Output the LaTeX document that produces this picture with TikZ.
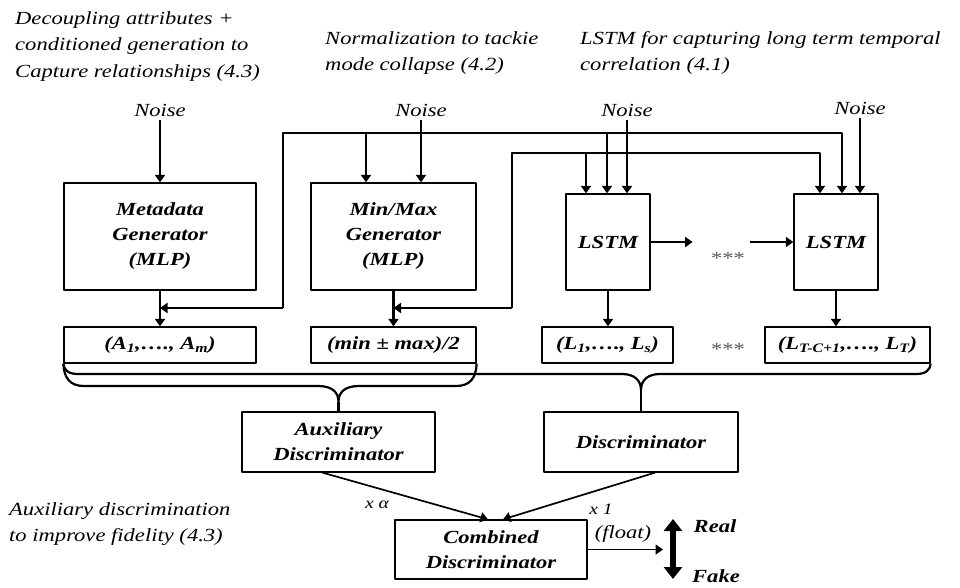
\documentclass[tikz,border=0pt]{standalone}
\usepackage{fontspec}
\setmainfont{Liberation Serif}[FakeStretch=1.22]
\usetikzlibrary{arrows.meta,calc}
\usetikzlibrary{positioning}

\begin{document}
\begin{tikzpicture}[x=1pt,y=-1pt,>={Triangle[width=10pt,length=7.5pt]},line join=round,
  box/.style={draw,line width=1.3pt,inner sep=0pt,align=center,font=\fontsize{18.5}{25}\selectfont\bfseries\itshape},
  wire/.style={line width=2.2pt},
  thin wire/.style={line width=1.7pt},
  note/.style={anchor=north west,inner sep=0pt,align=left,font=\fontsize{18.5}{26.5}\selectfont\itshape},
  noise/.style={inner sep=4pt,font=\fontsize{18.5}{22}\selectfont\itshape},
  small/.style={inner sep=0pt,font=\fontsize{16}{18}\selectfont\itshape},
  stars/.style={anchor=base,inner sep=0pt,text=black!65,font=\fontsize{18.5}{22}\selectfont}]
\useasboundingbox (0,0) rectangle (960,587);
% design notes
\node[note] (nA) at (15,11) {Decoupling attributes +\\conditioned generation to\\Capture relationships (4.3)};
\node[note] (nB) at (325,31) {Normalization to tackie\\mode collapse (4.2)};
\node[note] (nC) at (580,31) {LSTM for capturing long term temporal\\correlation (4.1)};
\node[note] (nD) at (9,502) {Auxiliary discrimination\\to improve fidelity (4.3)};
% generators
\node[box,minimum width=192pt,minimum height=107pt] (meta) at (160,236.5) {Metadata\\Generator\\(MLP)};
\node[box,minimum width=165pt,minimum height=107pt] (minmax) at (393.5,236.5) {Min/Max\\Generator\\(MLP)};
\node[box,minimum width=84pt,minimum height=96pt] (lstmA) at (608,242) {LSTM};
\node[box,minimum width=84pt,minimum height=96pt] (lstmB) at (836,242) {LSTM};
% outputs
\node[box,font=\fontsize{18.5}{22}\selectfont\bfseries\itshape,minimum width=192pt,minimum height=36pt] (outA) at (160,345) {(A\textsubscript{1},…., A\textsubscript{m})};
\node[box,font=\fontsize{18.5}{22}\selectfont\bfseries\itshape,minimum width=165pt,minimum height=36pt] (outM) at (393.5,345) {(min ± max)/2};
\node[box,font=\fontsize{18.5}{22}\selectfont\bfseries\itshape,minimum width=131pt,minimum height=36pt] (outL) at (607.5,345) {(L\textsubscript{1},…., L\textsubscript{s})};
\node[box,font=\fontsize{18.5}{22}\selectfont\bfseries\itshape,minimum width=165pt,minimum height=36pt] (outT) at (847.5,345) {(L\textsubscript{T-C+1},…., L\textsubscript{T})};
\node[stars] (sA) at (728,264) {***};
\node[stars] (sB) at (728,355) {***};
% discriminators
\node[box,minimum width=193pt,minimum height=60pt] (aux) at (338.5,442) {Auxiliary\\Discriminator};
\node[box,minimum width=194pt,minimum height=60pt] (disc) at (641,442) {Discriminator};
\node[box,minimum width=192pt,minimum height=59pt] (comb) at (491,549.5) {Combined\\Discriminator};
% noise inputs
\node[noise] (nsM) at (160,110) {Noise};
\node[noise] (nsN) at (421,110) {Noise};
\node[noise] (nsL) at (627,110) {Noise};
\node[noise] (nsR) at (860,108) {Noise};
\draw[wire,->] (nsM.south) -- (nsM.south |- meta.north);
\draw[wire,->] (nsN.south) -- (nsN.south |- minmax.north);
\draw[wire,->] (nsL.south) -- (nsL.south |- lstmA.north);
\draw[wire,->] (nsR.south) -- (nsR.south |- lstmB.north);
% rails
\coordinate (r1) at (283,133);
\coordinate (r1e) at (842,133);
\coordinate (r2) at (512,153);
\coordinate (r2e) at (820,153);
\coordinate (b1) at (366,133);
\coordinate (b2) at (607,133);
\coordinate (b3) at (586,153);
\coordinate (jA) at (160,308);
\coordinate (jM) at (393.5,308);
\draw[wire,->] (jA -| r1) -- (r1) -- (r1e) -- (r1e |- lstmB.north);
\draw[wire,->] (jA -| r1) -- (jA);
\draw[wire,->] (b1) -- (b1 |- minmax.north);
\draw[wire,->] (b2) -- (b2 |- lstmA.north);
\draw[wire,->] (jM -| r2) -- (r2) -- (r2e) -- (r2e |- lstmB.north);
\draw[wire,->] (jM -| r2) -- (jM);
\draw[wire,->] (b3) -- (b3 |- lstmA.north);
% generator outputs
\draw[wire,->] (meta) -- (outA);
\draw[wire,->] (minmax) -- (outM);
\draw[wire,->] (lstmA.south) -- (lstmA.south |- outL.north);
\draw[wire,->] (lstmB.south) -- (lstmB.south |- outT.north);
\draw[wire,->] (lstmA.east) -- ++(42,0);
\draw[wire,->] (lstmB.west) ++(-43,0) -- (lstmB.west);
% braces
\draw[wire] (outA.south west) .. controls (64,378) and (70,386) .. (84,386) -- (318,386)
  .. controls (332,386) and (338.5,392) .. (338.5,402)
  .. controls (338.5,392) and (345,386) .. (359,386) -- (456,386)
  .. controls (470,386) and (476,378) .. (outM.south east);
\draw[wire] (338.5,402) -- (aux.north);
\draw[wire] (outA.south west) .. controls (64,370) and (68,374) .. (78,374) -- (622,374)
  .. controls (634,374) and (641,380) .. (641,390)
  .. controls (641,380) and (648,374) .. (660,374) -- (916,374)
  .. controls (926,374) and (930,370) .. (outT.south east);
\draw[wire] (641,390) -- (disc.north);
% combination
\draw[thin wire,->] ($(aux.south)+(-16,0)$) -- ($(comb.north)+(-3,0)$);
\draw[thin wire,->] ($(disc.south)+(14,0)$) -- ($(comb.north)+(12,0)$);
\node[small] (wa) at (377,505) {x α};
\node[small] (w1) at (601,509) {x 1};
\node[inner sep=0pt,font=\fontsize{18.5}{22}\selectfont\itshape] (fl) at (623,534) {(float)};
\coordinate (oe) at (663,549.5);
\draw[thin wire,->] (comb.east) -- (oe);
\coordinate (rl) at (673,519);
\coordinate (fk) at (673,579);
\draw[line width=6pt,{Triangle[width=18pt,length=12pt]}-{Triangle[width=18pt,length=12pt]}] (rl) -- (fk);
\node[inner sep=0pt,font=\fontsize{18.5}{22}\selectfont\bfseries\itshape] (real) at (715,526) {Real};
\node[inner sep=0pt,font=\fontsize{18.5}{22}\selectfont\bfseries\itshape] (fake) at (716,576) {Fake};
\end{tikzpicture}
\end{document}
